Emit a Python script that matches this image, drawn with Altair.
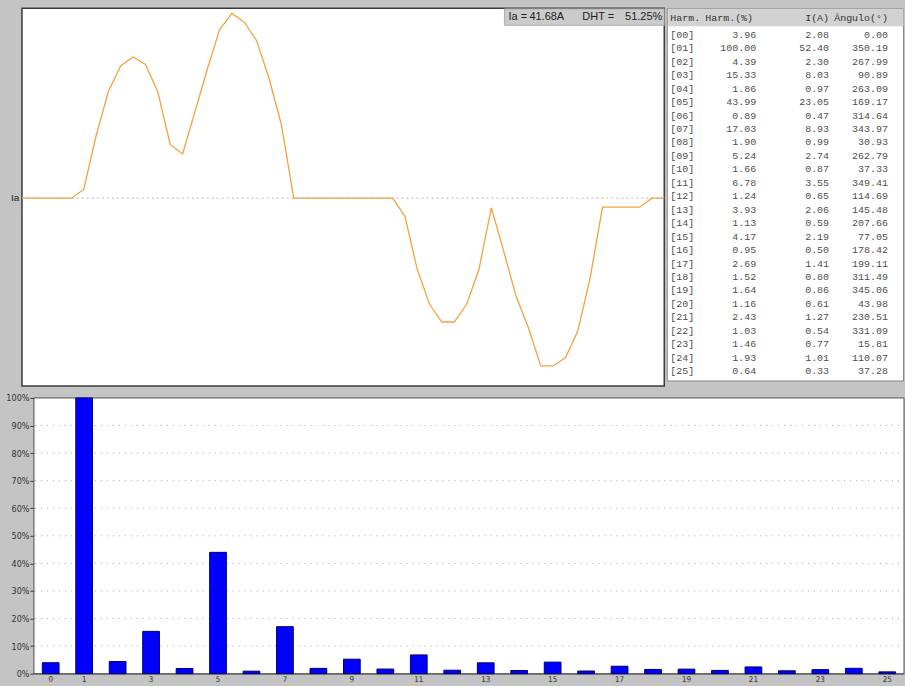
import altair as alt
import pandas as pd

# Phase current Ia over one mains cycle, 52 samples per cycle (A)
wave_sample = list(range(53))
wave_amps = [
    0, 0, 0, 0, 0, 7.0, 50, 85.6, 106, 113, 107, 85, 43, 35.4, 69, 103,
    135, 148, 141, 126, 96, 59, 0,
    0, 0, 0, 0, 0, 0, 0, 0,
    -14.4, -57, -85, -99.2, -99.2, -85, -57, -7.8, -42.4, -78.4, -103.8,
    -134.4, -134.4, -127.8, -106.4, -63.8, -7.2, -7.2, -7.2, -7.2, 0, 0,
]

# Harmonic spectrum of Ia
harm_order = list(range(26))
harm_pct = [3.96, 100.00, 4.39, 15.33, 1.86, 43.99, 0.89, 17.03, 1.90, 5.24,
            1.66, 6.78, 1.24, 3.93, 1.13, 4.17, 0.95, 2.69, 1.52, 1.64,
            1.16, 2.43, 1.03, 1.46, 1.93, 0.64]
harm_amps = [2.08, 52.40, 2.30, 8.03, 0.97, 23.05, 0.47, 8.93, 0.99, 2.74,
             0.87, 3.55, 0.65, 2.06, 0.59, 2.19, 0.50, 1.41, 0.80, 0.86,
             0.61, 1.27, 0.54, 0.77, 1.01, 0.33]
harm_angle = [0.00, 350.19, 267.99, 90.89, 263.09, 169.17, 314.64, 343.97,
              30.93, 262.79, 37.33, 349.41, 114.69, 145.48, 207.66, 77.05,
              178.42, 199.11, 311.49, 345.06, 43.98, 230.51, 331.09, 15.81,
              110.07, 37.28]
pct_ticks = list(range(0, 101, 10))
pct_grid = list(range(10, 100, 10))

ia_rms_text = "41.68A"
dht_text = "51.25%"
table_header = ["Harm.", "Harm.(%)", "I(A)", "Ângulo(°)"]

GRAY = "#c4c4c4"
MONO = "Liberation Mono"
SANS = "Liberation Sans"
NARROW = "Liberation Sans Narrow, DejaVu Sans Condensed, Liberation Sans"

# One view holds the three panes; its origin is the spectrum plot's corner.
VIEW_W, VIEW_H = 871, 666
WAVE_L, WAVE_R, WAVE_B = -12, 631, 378      # waveform pane
TAB_L, TAB_R, TAB_B = 634, 870.5, 373       # harmonic table
SPEC_T, SPEC_B = 390, VIEW_H                # spectrum plot

one = pd.DataFrame({"k": [0]})

# ---------------- waveform pane ----------------
wave_df = pd.DataFrame({"sample": wave_sample, "amps": wave_amps})
wave_x = alt.Scale(domain=[0, 52], range=[WAVE_L, WAVE_R], nice=False, zero=False)
wave_y = alt.Scale(domain=[-150.4, 152], range=[WAVE_B, 0], nice=False, zero=False)

wave_bg = alt.Chart(one).mark_rect(fill="white", stroke="#3c3c3c", strokeWidth=1.5).encode(
    x=alt.value(WAVE_L), x2=alt.value(WAVE_R), y=alt.value(0), y2=alt.value(WAVE_B)
)
zero_df = pd.DataFrame({"amps": [0], "name": ["Ia"]})
zero_rule = alt.Chart(zero_df).mark_rule(
    color="#b8b8b8", strokeDash=[2, 3], strokeWidth=1
).encode(
    x=alt.value(WAVE_L), x2=alt.value(WAVE_R),
    y=alt.Y("amps:Q", scale=wave_y, axis=None),
)
ia_label = alt.Chart(zero_df).mark_text(
    align="left", baseline="middle", font=SANS, fontSize=10, color="#222"
).encode(
    x=alt.value(-23), y=alt.Y("amps:Q", scale=wave_y, axis=None), text="name:N"
)
wave_line = alt.Chart(wave_df).mark_line(color="#f5a142", strokeWidth=1.3).encode(
    x=alt.X("sample:Q", scale=wave_x, axis=None),
    y=alt.Y("amps:Q", scale=wave_y, axis=None),
)

info_box = alt.Chart(one).mark_rect(fill="#cbcbcb", stroke="#a0a0a0", strokeWidth=0.8).encode(
    x=alt.value(471), x2=alt.value(WAVE_R), y=alt.value(0.5), y2=alt.value(17)
)
info_font = dict(font=SANS, fontSize=11, color="#222", baseline="middle")
info_texts = [
    alt.Chart(one).mark_text(align=a, **info_font).encode(
        x=alt.value(px), y=alt.value(9), text=alt.value(t))
    for px, a, t in [(475, "left", "Ia ="), (496, "left", ia_rms_text),
                     (549, "left", "DHT ="), (629, "right", dht_text)]
]

# ---------------- harmonic table ----------------
tab_df = pd.DataFrame({
    "row": harm_order,
    "label": ["[%02d]" % h for h in harm_order],
    "pct": harm_pct,
    "amps": harm_amps,
    "angle": harm_angle,
})
row_y = alt.Y("row:Q", axis=None,
              scale=alt.Scale(domain=[-1.967, 26.095], range=[0, WAVE_B], nice=False, zero=False))
cell_font = dict(font=MONO, fontSize=10, color="#4e4e4e", baseline="middle")

tab_bg = alt.Chart(one).mark_rect(fill="white", stroke="#8a8a8a", strokeWidth=1).encode(
    x=alt.value(TAB_L), x2=alt.value(TAB_R), y=alt.value(0.5), y2=alt.value(TAB_B))
head_bg = alt.Chart(one).mark_rect(fill="#d2d2d2").encode(
    x=alt.value(TAB_L + 1), x2=alt.value(TAB_R), y=alt.value(1), y2=alt.value(18))

tab_base = alt.Chart(tab_df)
col_label = tab_base.mark_text(align="left", **cell_font).encode(
    x=alt.value(TAB_L + 3), y=row_y, text="label:N")
col_pct = tab_base.mark_text(align="right", **cell_font).encode(
    x=alt.value(TAB_L + 89), y=row_y, text=alt.Text("pct:Q", format=".2f"))
col_amp = tab_base.mark_text(align="right", **cell_font).encode(
    x=alt.value(TAB_L + 162), y=row_y, text=alt.Text("amps:Q", format=".2f"))
col_ang = tab_base.mark_text(align="right", **cell_font).encode(
    x=alt.value(TAB_L + 221), y=row_y, text=alt.Text("angle:Q", format=".2f"))

head_font = dict(font=MONO, fontSize=10, color="#333", baseline="middle")
head_cols = [(3, "left"), (38, "left"), (162, "right"), (221, "right")]
head_texts = [
    alt.Chart(one).mark_text(align=a, **head_font).encode(
        x=alt.value(TAB_L + px), y=alt.value(10), text=alt.value(t))
    for (px, a), t in zip(head_cols, table_header)
]

# ---------------- spectrum bar chart ----------------
pct_scale = alt.Scale(domain=[0, 100], range=[SPEC_B, SPEC_T], nice=False)

spec_bg = alt.Chart(one).mark_rect(fill="white", stroke="#555", strokeWidth=1).encode(
    x=alt.value(0), x2=alt.value(VIEW_W), y=alt.value(SPEC_T), y2=alt.value(SPEC_B))

# dotted horizontal guides every 10 %
spec_grid = alt.Chart(pd.DataFrame({"pct": pct_grid})).mark_rule(
    color="#a8a8a8", strokeDash=[1, 5], strokeWidth=1
).encode(
    x=alt.value(1), x2=alt.value(VIEW_W - 1),
    y=alt.Y("pct:Q", scale=pct_scale, axis=None),
)

bar_df = pd.DataFrame({"order": harm_order, "pct": harm_pct})
bars = alt.Chart(bar_df).mark_bar(
    color="#0000ff", stroke="#000070", strokeWidth=1
).encode(
    x=alt.X("order:O", scale=alt.Scale(paddingInner=0.5, paddingOuter=0.25),
            axis=alt.Axis(title=None, labelAngle=0, ticks=False, domain=True,
                          domainColor="#555", labelFont=NARROW, labelFontSize=8,
                          labelColor="#333", labelPadding=2,
                          minExtent=13, maxExtent=13,
                          labelExpr="datum.value == 0 || datum.value % 2 == 1 ? datum.label : ''")),
    y=alt.Y("pct:Q", scale=pct_scale,
            axis=alt.Axis(title=None, values=pct_ticks,
                          labelExpr="datum.value + '%'", tickSize=4,
                          tickColor="#333", domainColor="#333",
                          labelFont=NARROW, labelFontSize=9, labelColor="#333",
                          labelPadding=1, grid=False,
                          minExtent=34, maxExtent=34)),
)

chart = alt.layer(
    wave_bg, zero_rule, wave_line, ia_label, info_box, *info_texts,
    tab_bg, head_bg, *head_texts, col_label, col_pct, col_amp, col_ang,
    spec_bg, spec_grid, bars,
).resolve_scale(x="independent", y="independent").properties(
    width=VIEW_W, height=VIEW_H,
    background=GRAY,
    padding={"left": 0, "top": 7, "right": 0, "bottom": 0},
    view=alt.ViewBackground(fill="transparent", stroke="transparent"),
)

chart.save("out.html", embed_options={"renderer": "svg", "actions": False})
